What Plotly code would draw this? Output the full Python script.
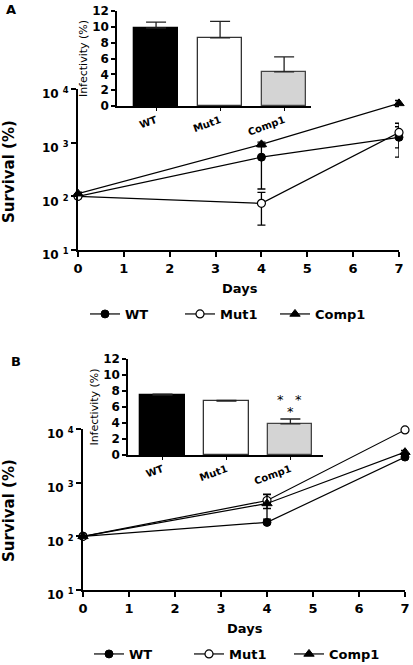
import plotly.graph_objects as go

# ---------------- data ----------------
days = [0, 4, 7]
series_names = ["WT", "Mut1", "Comp1"]

# Panel A survival (%)
a_wt = [100, 537, 1260]
a_wt_err = [5, 400, 720]
a_mut1 = [100, 74, 1550]
a_mut1_err = [5, 45, 750]
a_comp1 = [112, 930, 5400]
a_comp1_err = [8, 90, 700]

# Panel A infectivity (%)
a_inf = [9.85, 8.6, 4.3]
a_inf_err = [0.75, 2.1, 1.9]

# Panel B survival (%)
b_wt = [100, 182, 3000]
b_wt_err = [3, 10, 200]
b_mut1 = [100, 465, 9600]
b_mut1_err = [3, 135, 300]
b_comp1 = [100, 410, 3700]
b_comp1_err = [3, 200, 300]

# Panel B infectivity (%)
b_inf = [7.5, 6.75, 3.9]
b_inf_err = [0.1, 0.08, 0.6]

surv_ticks = [10, 100, 1000, 10000]
surv_ticktext = ["10\u00a0<sup>1</sup>", "10\u00a0<sup>2</sup>",
                 "10\u00a0<sup>3</sup>", "10\u00a0<sup>4</sup>"]
inf_ticks = [0, 2, 4, 6, 8, 10, 12]

W, H = 413, 665
FONT = "DejaVu Sans, Verdana, sans-serif"

def px(x):
    return x / W

def py(y):
    return 1 - y / H

markers = [
    dict(symbol="circle", size=8, color="black", line=dict(color="black", width=1)),
    dict(symbol="circle", size=8, color="white", line=dict(color="black", width=1.2)),
    dict(symbol="triangle-up", size=9, color="black", line=dict(color="black", width=1)),
]

fig = go.Figure()

def add_survival(vals, errs, xa, ya, legend):
    for name, v, e, m in zip(series_names, vals, errs, markers):
        fig.add_trace(go.Scatter(
            x=days, y=v, name=name, mode="lines+markers",
            line=dict(color="black", width=1.2), marker=m,
            error_y=dict(type="data", array=e, visible=True, color="black",
                         thickness=1.3, width=4),
            xaxis=xa, yaxis=ya, legend=legend, showlegend=True,
            cliponaxis=False,
        ))

def add_bars(vals, errs, xa, ya):
    fig.add_trace(go.Bar(
        x=[0, 1, 2], y=vals, width=0.69,
        marker=dict(color=["black", "white", "#d4d4d4"],
                    line=dict(color=["black", "#333333", "#444444"], width=1.3)),
        error_y=dict(type="data", symmetric=False, array=errs,
                     arrayminus=[0, 0, 0], visible=True, color="#222222",
                     thickness=1.3, width=10),
        xaxis=xa, yaxis=ya, showlegend=False, cliponaxis=False,
    ))

add_survival([a_wt, a_mut1, a_comp1], [a_wt_err, a_mut1_err, a_comp1_err], "x", "y", "legend")
add_bars(a_inf, a_inf_err, "x2", "y2")
add_survival([b_wt, b_mut1, b_comp1], [b_wt_err, b_mut1_err, b_comp1_err], "x3", "y3", "legend2")
add_bars(b_inf, b_inf_err, "x4", "y4")

tickfont_main = dict(family=FONT, size=13, color="black", weight="bold")
tickfont_ymain = dict(family=FONT, size=12, color="black", weight="bold")
tickfont_inset = dict(family=FONT, size=12, color="black", weight="bold")

def main_x(domain, anchor):
    return dict(domain=domain, anchor=anchor, range=[0, 7], tickvals=list(range(8)),
                showline=True, linecolor="black", linewidth=2, ticks="outside",
                ticklen=5, tickwidth=2, tickcolor="black", showgrid=False,
                zeroline=False, tickfont=tickfont_main, fixedrange=True,
                ticklabeloverflow="allow", automargin=False)

def main_y(domain, anchor):
    return dict(domain=domain, anchor=anchor, type="log", range=[1, 4],
                tickvals=surv_ticks, ticktext=surv_ticktext,
                showline=True, linecolor="black", linewidth=2, ticks="outside",
                ticklen=5, tickwidth=2, tickcolor="black", showgrid=False,
                zeroline=False, tickfont=tickfont_ymain, automargin=False,
                ticklabelshift=5)

def inset_x(domain, anchor, rng):
    return dict(domain=domain, anchor=anchor, range=rng, tickvals=[0, 1, 2],
                ticktext=series_names, tickangle=-20,
                showline=True, linecolor="black", linewidth=1.5, ticks="outside",
                ticklen=3, tickwidth=1, tickcolor="black", showgrid=False,
                zeroline=False, automargin=False,
                tickfont=dict(family=FONT, size=10, color="black", weight="bold"))

def inset_y(domain, anchor):
    return dict(domain=domain, anchor=anchor, range=[0, 12], tickvals=inf_ticks,
                showline=True, linecolor="black", linewidth=1.5, ticks="outside",
                ticklen=4, tickwidth=1.5, tickcolor="black", showgrid=False,
                zeroline=False, tickfont=tickfont_inset, automargin=False,
                title=dict(text="Infectivity (%)", standoff=2,
                           font=dict(family=FONT, size=11, color="black")))

legend_font = dict(family=FONT, size=13, color="black", weight="bold")
fig.update_layout(
    width=W, height=H,
    margin=dict(l=0, r=0, t=0, b=0, autoexpand=False),
    paper_bgcolor="white", plot_bgcolor="rgba(0,0,0,0)",
    font=dict(family=FONT, color="black"),
    bargap=0,
    xaxis=main_x([px(78), px(399)], "y"),
    yaxis=main_y([py(250), py(89)], "x"),
    xaxis2=inset_x([px(117), px(311)], "y2", [-0.61, 2.42]),
    yaxis2=inset_y([py(106), py(11)], "x2"),
    xaxis3=main_x([px(83), px(405)], "y3"),
    yaxis3=main_y([py(590), py(429)], "x3"),
    xaxis4=inset_x([px(128), px(323)], "y4", [-0.54, 2.51]),
    yaxis4=inset_y([py(455), py(359)], "x4"),
    legend=dict(orientation="h", x=px(85), y=py(314), xanchor="left", yanchor="middle",
                font=legend_font, itemwidth=30, entrywidth=50,
                bgcolor="rgba(0,0,0,0)", traceorder="normal"),
    legend2=dict(orientation="h", x=px(89), y=py(654), xanchor="left", yanchor="middle",
                 font=legend_font, itemwidth=30, entrywidth=55,
                 bgcolor="rgba(0,0,0,0)", traceorder="normal"),
)

ann_font = dict(family=FONT, size=13, color="black", weight="bold")
title_font = dict(family=FONT, size=15, color="black", weight="bold")
annotations = [
    dict(text="A", x=px(11), y=py(9), xref="paper", yref="paper", showarrow=False,
         xanchor="center", yanchor="middle", font=ann_font),
    dict(text="B", x=px(16), y=py(362), xref="paper", yref="paper", showarrow=False,
         xanchor="center", yanchor="middle", font=ann_font),
    dict(text="Survival (%)", x=px(9), y=py(172), xref="paper", yref="paper",
         xanchor="center", yanchor="middle",
         textangle=-90, showarrow=False, font=title_font),
    dict(text="Days", x=px(240), y=py(288), xref="paper", yref="paper",
         xanchor="center", yanchor="middle", showarrow=False, font=ann_font),
    dict(text="Survival (%)", x=px(9), y=py(511), xref="paper", yref="paper",
         xanchor="center", yanchor="middle",
         textangle=-90, showarrow=False, font=title_font),
    dict(text="Days", x=px(245), y=py(628), xref="paper", yref="paper",
         xanchor="center", yanchor="middle", showarrow=False, font=ann_font),
    dict(text="*", x=1.84, y=7.0, xref="x4", yref="y4", showarrow=False,
         yanchor="middle", font=dict(family=FONT, size=13, color="black")),
    dict(text="*", x=2.12, y=7.0, xref="x4", yref="y4", showarrow=False,
         yanchor="middle", font=dict(family=FONT, size=13, color="black")),
    dict(text="*", x=2.0, y=5.4, xref="x4", yref="y4", showarrow=False,
         yanchor="middle", font=dict(family=FONT, size=13, color="black")),
]
fig.update_layout(annotations=annotations)

fig.write_html("out.html", config={"displayModeBar": False})

# remove the default page margin so the figure sits at the window's top-left corner
with open("out.html", "r", encoding="utf-8") as f:
    html = f.read()
html = html.replace("<head>", "<head><style>html,body{margin:0;padding:0;overflow:hidden;}</style>", 1)
with open("out.html", "w", encoding="utf-8") as f:
    f.write(html)
